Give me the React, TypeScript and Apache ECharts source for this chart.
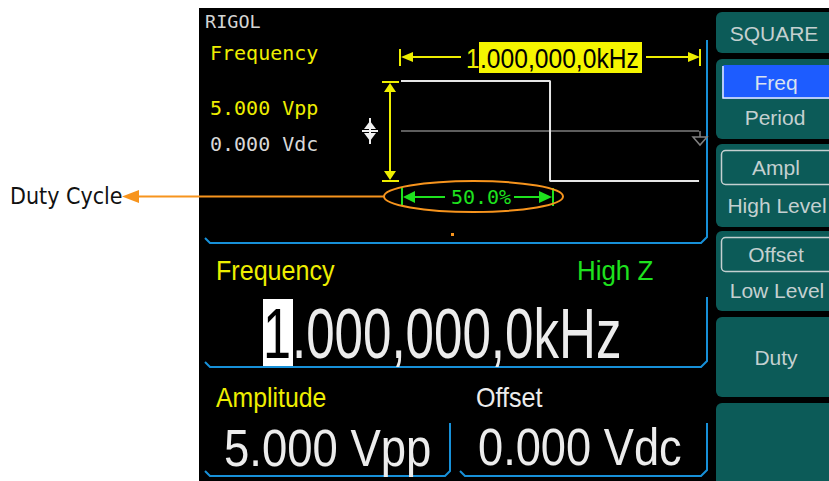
import { useEffect, useRef } from 'react';
import * as echarts from 'echarts';

// ---- data ----
const waveTimes = [0, 0.5, 0.5, 1.0];
const waveLevels = [2.5, 2.5, -2.5, -2.5];
const offsetTimes = [0, 1.0];
const offsetLevels = [0, 0];
const brand = 'RIGOL';
const paramLabel = 'Frequency';
const amplitudeText = '5.000 Vpp';
const offsetText = '0.000 Vdc';
const freqLead = '1';
const freqRest = '.000,000,0kHz';
const dutyText = '50.0%';
const loadText = 'High Z';
const menuTitle = 'SQUARE';
const menuFirst = ['Freq', 'Ampl', 'Offset'];
const menuSecond = ['Period', 'High Level', 'Low Level'];
const menuSingle = 'Duty';
const calloutText = 'Duty Cycle';

const YEL = '#eeee00';
const GRN = '#1ee21e';
const BLUE = '#1790d8';
const TEAL = '#0c5b58';
const BTXT = '#c4d0d0';
const WHT = '#ececec';
const ORG = '#f7941d';
const MONO = '"DejaVu Sans Mono", monospace';
const SANS = '"Liberation Sans", Arial, sans-serif';

function txt(text: string, x: number, y: number, size: number, family: string, fill: string, opt: any = {}) {
  const align = opt.align ?? 'left';
  return {
    type: 'text', x, y, z: 20, scaleX: opt.scaleX ?? 1,
    style: {
      text, fontSize: size, fontFamily: family, fill,
      align, verticalAlign: 'middle', textAlign: align, textVerticalAlign: 'middle',
    },
  };
}
function line(pts: number[][], stroke: string, w = 2, z = 15) {
  return { type: 'polyline', z, shape: { points: pts }, style: { stroke, lineWidth: w, fill: 'none' } };
}
function tri(pts: number[][], fill: string) {
  return { type: 'polygon', z: 15, shape: { points: pts }, style: { fill } };
}

export default function App() {
  const ref = useRef<HTMLDivElement>(null);
  useEffect(() => {
    document.body.style.margin = '0';
    const chart = echarts.init(ref.current!, null, { renderer: 'svg' });
    const g: any[] = [];
    g.push({ type: 'rect', z: 0, shape: { x: 199, y: 8, width: 630, height: 473 }, style: { fill: '#000' } });
    // menu buttons
    const btns = [[12, 41], [59, 80], [144, 83], [231, 80], [317, 80], [403, 90]];
    btns.forEach(([y, h]) => g.push({ type: 'rect', z: 5, shape: { x: 716, y, width: 130, height: h, r: 6 }, style: { fill: TEAL } }));
    g.push({ type: 'rect', z: 6, shape: { x: 722, y: 65, width: 120, height: 34, r: 3 }, style: { fill: '#1d5cff' } });
    g.push(line([[723, 66], [723, 98], [829, 98]], '#e8eef8', 1.5, 7));
    g.push({ type: 'rect', z: 6, shape: { x: 721.5, y: 150.5, width: 120, height: 34, r: 4 }, style: { fill: 'none', stroke: BTXT, lineWidth: 1.5 } });
    g.push({ type: 'rect', z: 6, shape: { x: 721.5, y: 237.5, width: 120, height: 34, r: 4 }, style: { fill: 'none', stroke: BTXT, lineWidth: 1.5 } });
    g.push(txt(menuTitle, 774, 33, 21, SANS, BTXT, { align: 'center' }));
    g.push(txt(menuFirst[0], 776, 82, 21, SANS, '#d8e2f0', { align: 'center' }));
    g.push(txt(menuSecond[0], 775, 117, 21, SANS, BTXT, { align: 'center' }));
    g.push(txt(menuFirst[1], 776, 167, 21, SANS, BTXT, { align: 'center' }));
    g.push(txt(menuSecond[1], 777, 205, 21, SANS, BTXT, { align: 'center' }));
    g.push(txt(menuFirst[2], 776, 254, 21, SANS, BTXT, { align: 'center' }));
    g.push(txt(menuSecond[2], 777, 290, 21, SANS, BTXT, { align: 'center' }));
    g.push(txt(menuSingle, 776, 357, 21, SANS, BTXT, { align: 'center' }));
    // panel borders
    g.push(line([[205, 238], [210, 243], [701, 243], [707, 237], [707, 40]], BLUE));
    g.push(line([[205, 362], [210, 367], [701, 367], [707, 361], [707, 297]], BLUE));
    g.push(line([[205, 471], [210, 476], [445, 476], [450, 471], [450, 423]], BLUE));
    g.push(line([[460, 471], [465, 476], [701, 476], [707, 470], [707, 423]], BLUE));
    // top-left small texts
    g.push(txt(brand, 205, 21, 18.5, MONO, '#d4d4d4'));
    g.push(txt(paramLabel, 210, 53, 20, MONO, YEL));
    g.push(txt(amplitudeText, 210, 108, 20, MONO, YEL));
    g.push(txt(offsetText, 210, 144, 20, MONO, '#d8d8d8'));
    // frequency span arrow
    g.push(line([[400, 49], [400, 66]], YEL, 2));
    g.push(tri([[401, 57], [413, 52], [413, 62]], YEL));
    g.push(line([[413, 57], [461, 57]], YEL, 2));
    g.push(txt(freqLead, 466, 58, 28, SANS, YEL, { scaleX: 0.87 }));
    g.push({ type: 'rect', z: 14, shape: { x: 479, y: 42, width: 163, height: 31 }, style: { fill: '#f5f500' } });
    g.push(txt(freqRest, 480, 58, 28, SANS, '#000', { scaleX: 0.88 }));
    g.push(line([[646, 57], [690, 57]], YEL, 2));
    g.push(tri([[700, 57], [688, 52], [688, 62]], YEL));
    g.push(line([[700, 49], [700, 66]], YEL, 2));
    // amplitude arrow
    g.push(line([[382, 82], [399, 82]], YEL, 2));
    g.push(line([[382, 181], [399, 181]], YEL, 2));
    g.push(tri([[390, 83], [384, 92], [396, 92]], YEL));
    g.push(tri([[390, 180], [384, 171], [396, 171]], YEL));
    g.push(line([[390, 90], [390, 173]], YEL, 2));
    // offset icon
    g.push(line([[370, 118], [370, 144]], '#f0f0f0', 2));
    g.push(line([[362, 131], [378, 131]], '#f0f0f0', 2));
    g.push(tri([[370, 121], [364, 129], [376, 129]], '#f0f0f0'));
    g.push(tri([[370, 141], [364, 133], [376, 133]], '#f0f0f0'));
    // offset marker
    g.push(line([[700, 131], [700, 137]], '#808080', 1.5));
    g.push({ type: 'polygon', z: 15, shape: { points: [[693, 137], [707, 137], [700, 145]] }, style: { fill: 'none', stroke: '#808080', lineWidth: 1.5 } });
    // duty arrows
    g.push(line([[402, 188], [402, 206]], GRN, 2));
    g.push(tri([[403, 197], [415, 191], [415, 203]], GRN));
    g.push(line([[415, 197], [445, 197]], GRN, 2));
    g.push(txt(dutyText, 481, 197, 20, MONO, GRN, { align: 'center' }));
    g.push(line([[514, 197], [540, 197]], GRN, 2));
    g.push(tri([[552, 197], [539, 191], [539, 203]], GRN));
    g.push(line([[553, 188], [553, 206]], GRN, 2));
    // callout
    g.push({ type: 'ellipse', z: 16, shape: { cx: 473.5, cy: 196.5, rx: 89.5, ry: 15.5 }, style: { fill: 'none', stroke: ORG, lineWidth: 2 } });
    g.push(line([[136, 196.5], [384, 196.5]], ORG, 2, 16));
    g.push({ type: 'polygon', z: 16, shape: { points: [[122, 196.5], [139, 190], [139, 203]] }, style: { fill: ORG } });
    g.push({ type: 'text', x: 10, y: 196, z: 20, scaleX: 0.9, style: { text: calloutText, fontSize: 23, fontFamily: '"DejaVu Sans", Verdana, sans-serif', fill: '#111', align: 'left', verticalAlign: 'middle', textAlign: 'left', textVerticalAlign: 'middle' } });
    g.push({ type: 'rect', z: 16, shape: { x: 451, y: 233, width: 3, height: 3 }, style: { fill: ORG } });
    // middle panel
    g.push(txt(paramLabel, 216, 271, 27, SANS, YEL, { scaleX: 0.93 }));
    g.push(txt(loadText, 577, 271, 27, SANS, GRN, { scaleX: 0.96 }));
    g.push({ type: 'rect', z: 14, shape: { x: 263, y: 299, width: 30, height: 69 }, style: { fill: '#ffffff' } });
    g.push(txt(freqLead, 263, 334, 70, SANS, '#000', { scaleX: 0.72 }));
    g.push(txt(freqRest, 292, 334, 70, SANS, WHT, { scaleX: 0.73 }));
    // bottom
    g.push(txt('Amplitude', 216, 398, 27, SANS, YEL, { scaleX: 0.92 }));
    g.push(txt('Offset', 476, 398, 27, SANS, WHT, { scaleX: 0.93 }));
    g.push(txt(amplitudeText, 224, 448, 52, SANS, WHT, { scaleX: 0.875 }));
    g.push(txt(offsetText, 478, 447, 52, SANS, WHT, { scaleX: 0.87 }));

    chart.setOption({
      animation: false,
      backgroundColor: '#ffffff',
      grid: { left: 401, top: 81, width: 304, height: 100, show: false },
      xAxis: { type: 'value', min: 0, max: 1.02, show: false },
      yAxis: { type: 'value', min: -2.5, max: 2.5, show: false },
      series: [
        { type: 'line', z: 8, symbol: 'none', data: offsetTimes.map((t, i) => [t, offsetLevels[i]]), lineStyle: { color: '#7c7c7c', width: 1.5 } },
        { type: 'line', z: 9, symbol: 'none', data: waveTimes.map((t, i) => [t, waveLevels[i]]), lineStyle: { color: '#e6e6e6', width: 2 } },
      ],
      graphic: { elements: g },
    });
    return () => chart.dispose();
  }, []);
  return <div ref={ref} style={{ width: 829, height: 481 }} />;
}
